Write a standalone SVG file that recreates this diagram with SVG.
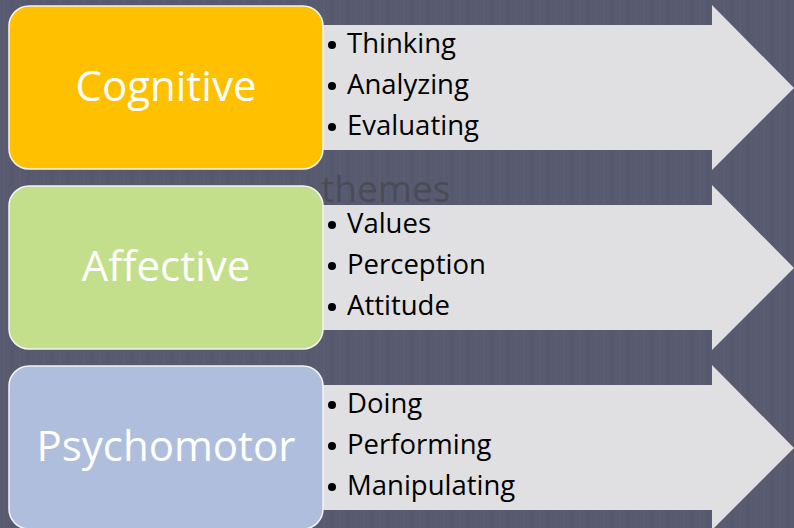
<svg xmlns="http://www.w3.org/2000/svg" width="794" height="528" viewBox="0 0 794 528">
<defs>
<pattern id="streaks" width="40" height="528" patternUnits="userSpaceOnUse">
<rect width="40" height="528" fill="#585b70"/>
<rect x="3" width="2" height="528" fill="#5d6075" opacity="0.6"/>
<rect x="11" width="3" height="528" fill="#55586c" opacity="0.6"/>
<rect x="19" width="2" height="528" fill="#5e6176" opacity="0.5"/>
<rect x="27" width="3" height="528" fill="#54576b" opacity="0.5"/>
<rect x="35" width="2" height="528" fill="#5c5f74" opacity="0.5"/>
</pattern>
<style>
.arrow{fill:#e0e0e2}
.box{stroke:#f4f4f4;stroke-width:1.5}
.label{font-family:"Open Sans","Liberation Sans",sans-serif;font-size:42px;fill:#ffffff;text-anchor:middle}
.item{font-family:"Open Sans","Liberation Sans",sans-serif;font-size:27.5px;fill:#000000}
.dot{fill:#000000}
.ghost{font-family:"Open Sans","Liberation Sans",sans-serif;font-size:37px;fill:#4a4b57}
</style>
</defs>
<rect width="794" height="528" fill="url(#streaks)"/>
<text class="ghost" x="321" y="202">themes</text>
<g id="connectors"></g>
<g id="cognitive">
<polygon class="arrow" points="300,25 712,25 712,5 794,88 712,170 712,150 300,150"/>
<rect class="box" x="9" y="6" width="314" height="163" rx="20" fill="#ffc000"/>
<text class="label" x="166" y="101">Cognitive</text>
<circle class="dot" cx="332" cy="45" r="4"/>
<text class="item" x="347" y="53">Thinking</text>
<circle class="dot" cx="332" cy="86" r="4"/>
<text class="item" x="347" y="94">Analyzing</text>
<circle class="dot" cx="332" cy="127" r="4"/>
<text class="item" x="347" y="135">Evaluating</text>
</g>
<g id="affective">
<polygon class="arrow" points="300,205 712,205 712,185 794,268 712,350 712,330 300,330"/>
<rect class="box" x="9" y="186" width="314" height="163" rx="20" fill="#c3df8b"/>
<text class="label" x="166" y="281">Affective</text>
<circle class="dot" cx="332" cy="225" r="4"/>
<text class="item" x="347" y="233">Values</text>
<circle class="dot" cx="332" cy="266" r="4"/>
<text class="item" x="347" y="274">Perception</text>
<circle class="dot" cx="332" cy="307" r="4"/>
<text class="item" x="347" y="315">Attitude</text>
</g>
<g id="psychomotor">
<polygon class="arrow" points="300,385 712,385 712,365 794,448 712,530 712,510 300,510"/>
<rect class="box" x="9" y="366" width="314" height="163" rx="20" fill="#afbedc"/>
<text class="label" x="166" y="461">Psychomotor</text>
<circle class="dot" cx="332" cy="405" r="4"/>
<text class="item" x="347" y="413">Doing</text>
<circle class="dot" cx="332" cy="446" r="4"/>
<text class="item" x="347" y="454">Performing</text>
<circle class="dot" cx="332" cy="487" r="4"/>
<text class="item" x="347" y="495">Manipulating</text>
</g>
</svg>
